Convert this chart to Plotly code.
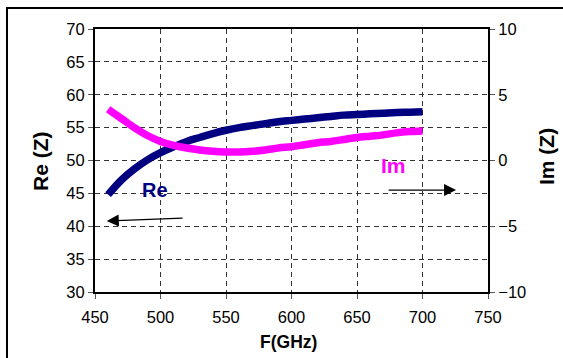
import plotly.graph_objects as go

# Frequency sweep (GHz) and the complex impedance Z = Re + j Im
freq = [460, 470, 480, 490, 500, 510, 520, 530, 540, 550, 560, 570, 580,
        590, 600, 610, 620, 630, 640, 650, 660, 670, 680, 690, 700]
re_z = [44.8, 47.0, 48.7, 50.1, 51.2, 52.1, 52.9, 53.5, 54.1, 54.6, 55.0,
        55.3, 55.6, 55.9, 56.1, 56.3, 56.5, 56.7, 56.9, 57.0, 57.1, 57.2,
        57.3, 57.35, 57.4]
im_z = [3.9, 3.2, 2.5, 1.9, 1.45, 1.15, 0.95, 0.8, 0.7, 0.65, 0.65, 0.7,
        0.8, 0.95, 1.05, 1.2, 1.35, 1.45, 1.6, 1.75, 1.85, 1.95, 2.1, 2.2,
        2.25]

x_ticks = [450, 500, 550, 600, 650, 700, 750]
re_ticks = [30, 35, 40, 45, 50, 55, 60, 65, 70]
im_ticks = [-10, -5, 0, 5, 10]

NAVY = "#000080"
MAGENTA = "#FF00FF"
FONT = "Liberation Sans, Arial, sans-serif"

fig = go.Figure()
fig.add_trace(go.Scatter(x=freq, y=re_z, mode="lines", name="Re",
                         line=dict(color=NAVY, width=7.5, shape="spline"),
                         hoverinfo="skip"))
fig.add_trace(go.Scatter(x=freq, y=im_z, mode="lines", name="Im", yaxis="y2",
                         line=dict(color=MAGENTA, width=7.5, shape="spline"),
                         hoverinfo="skip"))

grid = dict(showgrid=True, gridcolor="#333333", gridwidth=1, griddash="5px,4px")
axis_common = dict(showline=True, linecolor="black", linewidth=2,
                   ticks="outside", ticklen=5, tickcolor="#555555",
                   tickfont=dict(family=FONT, size=16.5, color="black"),
                   zeroline=False)

fig.update_layout(
    width=563, height=358,
    margin=dict(l=95, r=75, t=29, b=66),
    paper_bgcolor="white", plot_bgcolor="white",
    showlegend=False,
    font=dict(family=FONT, color="black"),
    xaxis=dict(range=[450, 750], tickvals=x_ticks, mirror=True,
               ticklabelstandoff=4, **grid, **axis_common),
    yaxis=dict(range=[30, 70], tickvals=re_ticks, mirror=True, **grid, **axis_common),
    yaxis2=dict(range=[-10, 10], tickvals=im_ticks, overlaying="y", side="right",
                showgrid=False, **axis_common),
)

# Axis titles (centred on their pixel positions)
title_font = dict(family=FONT, size=21, color="black")
fig.add_annotation(text="<b>Re (Z)</b>", xref="paper", yref="paper",
                   x=(40 - 95) / 393, y=(292 - 161) / 263, textangle=-90,
                   xanchor="center", yanchor="middle",
                   showarrow=False, font=title_font)
fig.add_annotation(text="<b>Im (Z)</b>", xref="paper", yref="paper",
                   x=(546 - 95) / 393, y=(292 - 157) / 263, textangle=-90,
                   xanchor="center", yanchor="middle",
                   showarrow=False, font=title_font)
fig.add_annotation(text="<b>F(GHz)</b>", xref="paper", yref="paper",
                   x=(288 - 95) / 393, y=(292 - 342) / 263,
                   xanchor="center", yanchor="middle",
                   showarrow=False, font=dict(family=FONT, size=17.5, color="black"))

# Series labels
fig.add_annotation(text="<b>Re</b>", x=496, y=45.5, showarrow=False,
                   font=dict(family=FONT, size=20, color=NAVY))
fig.add_annotation(text="<b>Im</b>", x=677.5, y=49.2, showarrow=False,
                   font=dict(family=FONT, size=21, color=MAGENTA))

# Arrows pointing to the axis each series belongs to
fig.add_annotation(x=459, y=40.8, ax=518, ay=41.25, xref="x", yref="y",
                   axref="x", ayref="y", text="", showarrow=True,
                   arrowhead=2, arrowsize=2, arrowwidth=1.2, arrowcolor="black")
fig.add_annotation(x=725.6, y=45.5, ax=673, ay=45.5, xref="x", yref="y",
                   axref="x", ayref="y", text="", showarrow=True,
                   arrowhead=2, arrowsize=2, arrowwidth=1.2, arrowcolor="black")

# Outer frame around the whole chart
fig.add_shape(type="rect", xref="paper", yref="paper",
              x0=(7 - 95) / 393, x1=(570 - 95) / 393,
              y0=(292 - 365) / 263, y1=(292 - 8) / 263,
              line=dict(color="black", width=2), layer="below")

fig.write_html("out.html")
